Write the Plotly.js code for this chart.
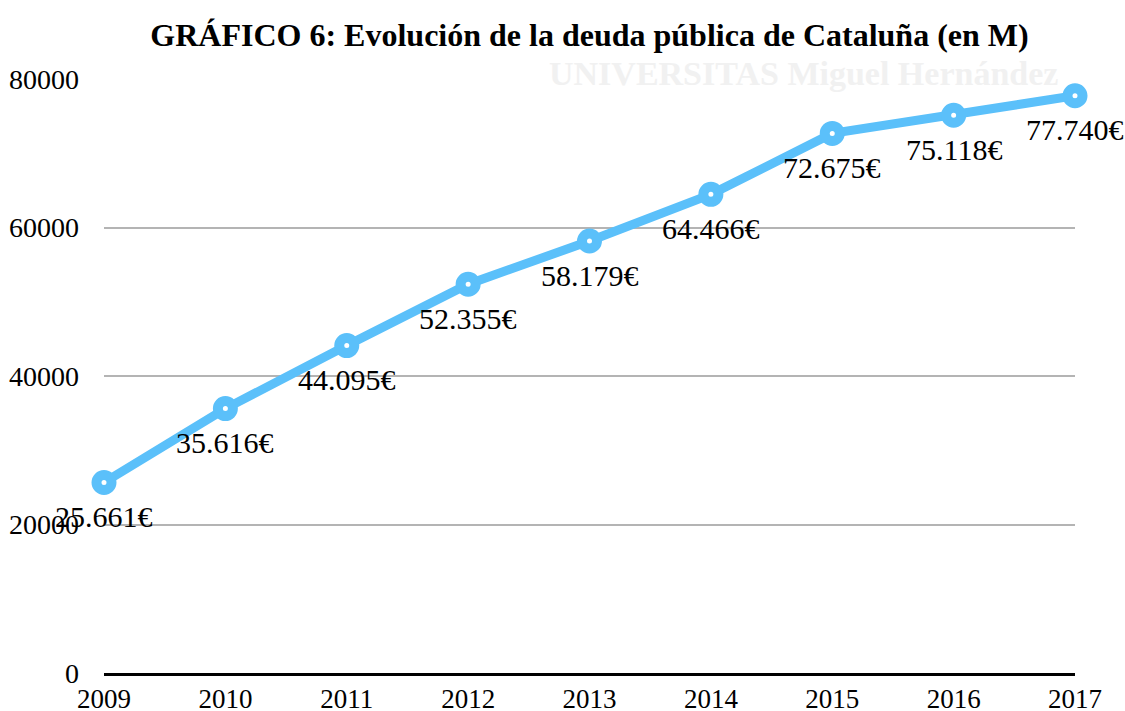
<!DOCTYPE html>
<html>
<head>
<meta charset="utf-8">
<script src="https://cdn.plot.ly/plotly-3.0.1.min.js"></script>
<style>html,body{margin:0;padding:0;background:#fff;}#chart{width:1125px;height:711px;}</style>
</head>
<body>
<div id="chart"></div>
<script>
var years = [2009, 2010, 2011, 2012, 2013, 2014, 2015, 2016, 2017];
var debt = [25661, 35616, 44095, 52355, 58179, 64466, 72675, 75118, 77740];
var yTicks = [0, 20000, 40000, 60000, 80000];
var titleText = "GRÁFICO 6: Evolución de la deuda pública de Cataluña (en M)";

function fmt(v) {
  return String(v).replace(/\B(?=(\d{3})+(?!\d))/g, ".") + "€";
}

var serif = "Liberation Serif";
var blue = "#5BC0FA";

var trace = {
  x: years, y: debt, type: "scatter", mode: "lines+markers",
  line: {color: blue, width: 9},
  marker: {symbol: "circle", size: 15, color: "#ffffff", line: {color: blue, width: 10}},
  hoverinfo: "skip", showlegend: false, cliponaxis: false
};

var annotations = [{
  xref: "paper", yref: "paper", x: 0.72, y: 1.01, xanchor: "center", yanchor: "middle",
  text: "<b>UNIVERSITAS Miguel Hernández</b>", showarrow: false,
  font: {family: serif, size: 34, color: "#f1f1f1"}
}];
years.forEach(function (yr, i) {
  annotations.push({
    x: yr, y: debt[i], xref: "x", yref: "y", text: fmt(debt[i]),
    showarrow: false, xanchor: "center", yanchor: "middle", yshift: -34,
    font: {family: serif, size: 30, color: "#000"}
  });
});

var layout = {
  width: 1125, height: 711,
  margin: {l: 104, r: 50, t: 79, b: 38},
  paper_bgcolor: "#fff", plot_bgcolor: "rgba(0,0,0,0)",
  font: {family: serif, color: "#000"},
  title: {
    text: "<b>" + titleText + "</b>",
    font: {family: serif, size: 32, color: "#000"},
    x: 0.5, xanchor: "center", xref: "paper",
    y: 1 - 35 / 711, yanchor: "middle", yref: "container"
  },
  xaxis: {
    range: [2009, 2017], tickvals: years, ticktext: years.map(String),
    showgrid: false, zeroline: false, showline: true, linecolor: "#000", linewidth: 3,
    ticks: "", ticklabelstandoff: 0,
    tickfont: {family: serif, size: 27, color: "#000"}
  },
  yaxis: {
    range: [0, 80000], tickvals: yTicks, ticktext: yTicks.map(String),
    showgrid: true, gridcolor: "#b4b4b4", gridwidth: 2,
    zeroline: false, showline: false, ticks: "", ticklabelstandoff: 24,
    tickfont: {family: serif, size: 28, color: "#000"}
  },
  annotations: annotations
};

Plotly.newPlot("chart", [trace], layout, {displayModeBar: false, staticPlot: true});
</script>
</body>
</html>
